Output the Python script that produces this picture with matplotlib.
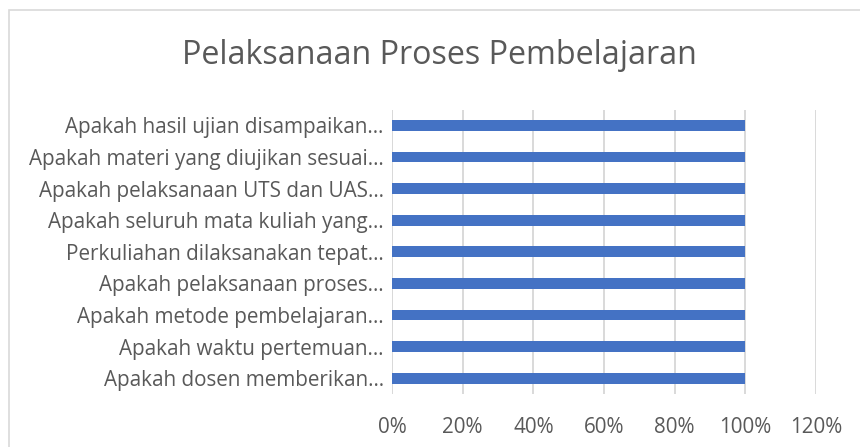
import matplotlib
matplotlib.use("Agg")
import matplotlib.pyplot as plt
from matplotlib.patches import Rectangle
from matplotlib.ticker import PercentFormatter

plt.rcParams['font.family'] = ['Open Sans', 'DejaVu Sans']

title = "Pelaksanaan Proses Pembelajaran"
# bottom to top
categories = [
    "Apakah dosen memberikan…",
    "Apakah waktu pertemuan…",
    "Apakah metode pembelajaran…",
    "Apakah pelaksanaan proses…",
    "Perkuliahan dilaksanakan tepat…",
    "Apakah seluruh mata kuliah yang…",
    "Apakah pelaksanaan UTS dan UAS…",
    "Apakah materi yang diujikan sesuai…",
    "Apakah hasil ujian disampaikan…",
]
values = [1.0, 1.0, 1.0, 1.0, 1.0, 1.0, 1.0, 1.0, 1.0]
xticks = [0, 0.2, 0.4, 0.6, 0.8, 1.0, 1.2]

W, H = 860, 447
fig = plt.figure(figsize=(W / 100, H / 100), dpi=100)
fig.patch.set_facecolor("white")

# chart border (cropped on the right/bottom)
fig.patches.append(Rectangle((8.5 / W, -0.1), 2.0, 1.1 - 10.5 / H,
                             transform=fig.transFigure, fill=False,
                             edgecolor="#D9D9D9", lw=1.2))

x0, x1 = 392, 816
y0, y1 = 109.5, 394
ax = fig.add_axes([x0 / W, 1 - y1 / H, (x1 - x0) / W, (y1 - y0) / H])

ypos = list(range(len(categories)))
ax.barh(ypos, values, height=0.34, color="#4472C4", zorder=3)
ax.set_xlim(0, 1.2)
ax.set_ylim(-0.5, len(categories) - 0.5)
ax.set_yticks(ypos)
ax.set_yticklabels(categories)
ax.set_xticks(xticks)
ax.xaxis.set_major_formatter(PercentFormatter(1.0, decimals=0))

for s in ax.spines.values():
    s.set_visible(False)
ax.grid(axis="x", color="#D9D9D9", lw=1.4, zorder=0)
ax.axvline(0, color="#D9D9D9", lw=1.4, zorder=2)
ax.tick_params(axis="both", length=0, colors="#595959", labelsize=14.9)
ax.tick_params(axis="y", pad=6)
ax.tick_params(axis="x", pad=16.5)

fig.text(439 / W, 1 - 56 / H, title, ha="center", va="center",
         fontsize=23.2, color="#595959")

fig.savefig("out.png", dpi=100, facecolor="white")
